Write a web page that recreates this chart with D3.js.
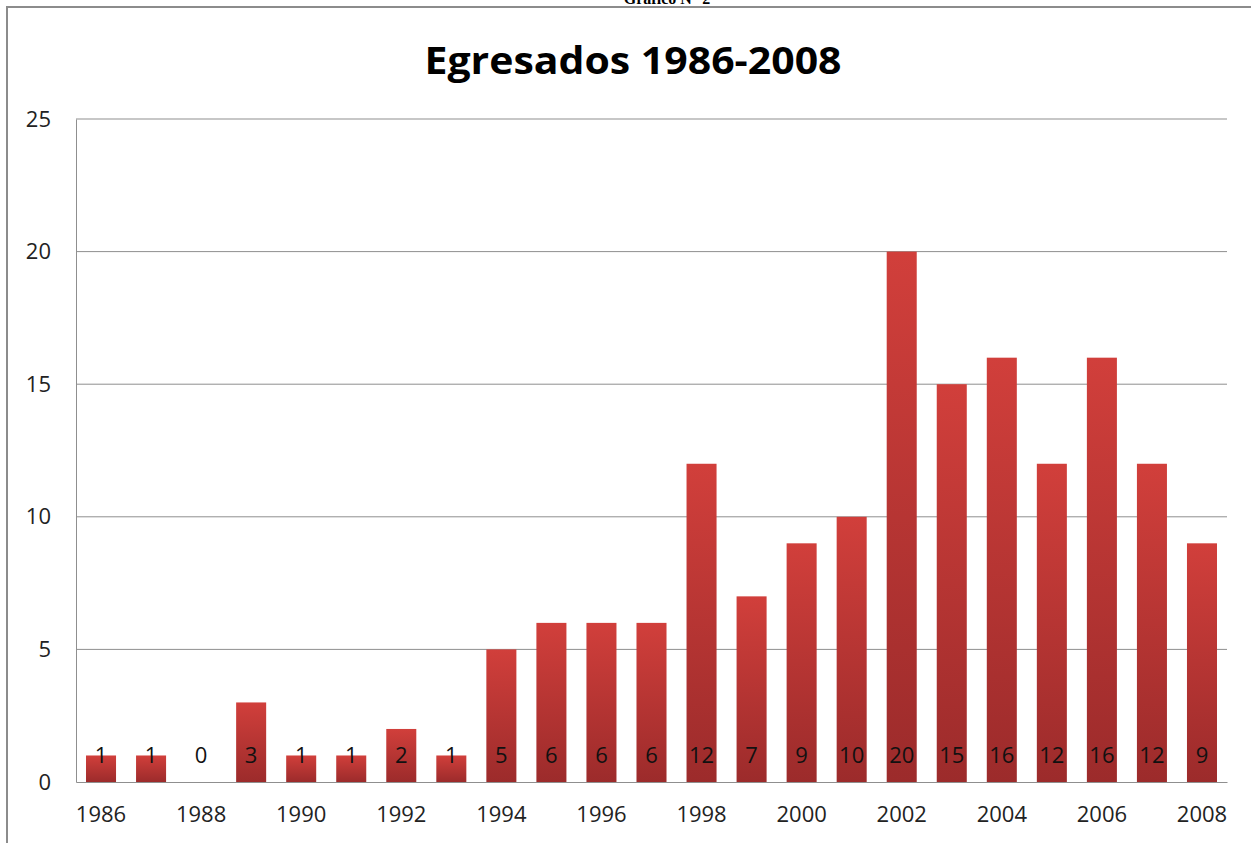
<!DOCTYPE html>
<html lang="es">
<head>
    <meta charset="UTF-8"/>
    <title>Egresados 1986-2008</title>
    <script src="https://d3js.org/d3.v7.min.js"></script>
    <style>
        body { margin: 0; background: #fff; }
        text { font-family: "Open Sans", Arial, sans-serif; }
    </style>
</head>
<body>
<div id="chart"></div>
<script>
    // data
    const years = ["1986","1987","1988","1989","1990","1991","1992","1993","1994","1995","1996","1997",
        "1998","1999","2000","2001","2002","2003","2004","2005","2006","2007","2008"];
    const egresados = [1, 1, 0, 3, 1, 1, 2, 1, 5, 6, 6, 6, 12, 7, 9, 10, 20, 15, 16, 12, 16, 12, 9];
    const yTicks = [0, 5, 10, 15, 20, 25];
    const xTickLabels = ["1986","1988","1990","1992","1994","1996","1998","2000","2002","2004","2006","2008"];

    const W = 1251, H = 843;
    const margin = {top: 119, right: 24, bottom: 61, left: 76};
    const width = W - margin.left - margin.right;
    const height = H - margin.top - margin.bottom;

    const root = d3.select("#chart").append("svg")
        .attr("width", W).attr("height", H);

    // gradient for bars
    const grad = root.append("defs").append("linearGradient")
        .attr("id", "barGrad").attr("x1", 0).attr("y1", 0).attr("x2", 0).attr("y2", 1);
    grad.append("stop").attr("offset", "0%").attr("stop-color", "#d13f3b");
    grad.append("stop").attr("offset", "100%").attr("stop-color", "#9c2b2b");

    // caption (cut off at the top in the original) + outer frame
    root.append("text").attr("x", 667).attr("y", 4)
        .attr("text-anchor", "middle")
        .style("font-family", "'Liberation Serif', serif")
        .style("font-size", "16px")
        .style("font-weight", "bold")
        .text("Gráfico N° 2");
    root.append("path")
        .attr("d", "M7,843 V7 H1251")
        .attr("fill", "none").attr("stroke", "#8c8c8c").attr("stroke-width", 2);

    // title
    root.append("text").attr("x", 633).attr("y", 74)
        .attr("text-anchor", "middle")
        .style("font-size", "38px").style("font-weight", "bold")
        .attr("textLength", 417).attr("lengthAdjust", "spacingAndGlyphs")
        .text("Egresados 1986-2008");

    const svg = root.append("g")
        .attr("transform", "translate(" + margin.left + "," + margin.top + ")");

    const x = d3.scaleBand().domain(years).range([0, width]).paddingInner(0.4).paddingOuter(0.2);
    const y = d3.scaleLinear().domain([0, 25]).range([height, 0]);

    // gridlines
    svg.append("g")
        .selectAll("line").data(yTicks.filter(d => d > 0)).join("line")
        .attr("x1", 0).attr("x2", width)
        .attr("y1", d => y(d)).attr("y2", d => y(d))
        .attr("stroke", "#8f8f8f").attr("stroke-width", 1);

    // Y axis
    const yAxis = svg.append("g")
        .call(d3.axisLeft(y).tickValues(yTicks).tickSize(0).tickPadding(25));
    yAxis.select(".domain").attr("stroke", "#8f8f8f");
    yAxis.selectAll("text").style("font-size", "22px").attr("fill", "#222");

    // bars
    svg.append("g").selectAll("rect").data(egresados).join("rect")
        .attr("x", (d, i) => x(years[i]))
        .attr("y", d => y(d))
        .attr("width", x.bandwidth())
        .attr("height", d => height - y(d))
        .attr("fill", "url(#barGrad)");

    // X axis
    const xAxis = svg.append("g")
        .attr("transform", "translate(0," + height + ")")
        .call(d3.axisBottom(x).tickSize(0).tickPadding(24)
            .tickFormat(d => xTickLabels.includes(d) ? d : ""));
    xAxis.select(".domain").attr("stroke", "#8f8f8f");
    xAxis.selectAll("text").style("font-size", "22px").attr("fill", "#222");

    // value labels
    svg.append("g").selectAll("text").data(egresados).join("text")
        .attr("x", (d, i) => x(years[i]) + x.bandwidth() / 2)
        .attr("y", height - 19)
        .attr("text-anchor", "middle")
        .style("font-size", "22px")
        .attr("fill", "#111")
        .text(d => d);
</script>
</body>
</html>
